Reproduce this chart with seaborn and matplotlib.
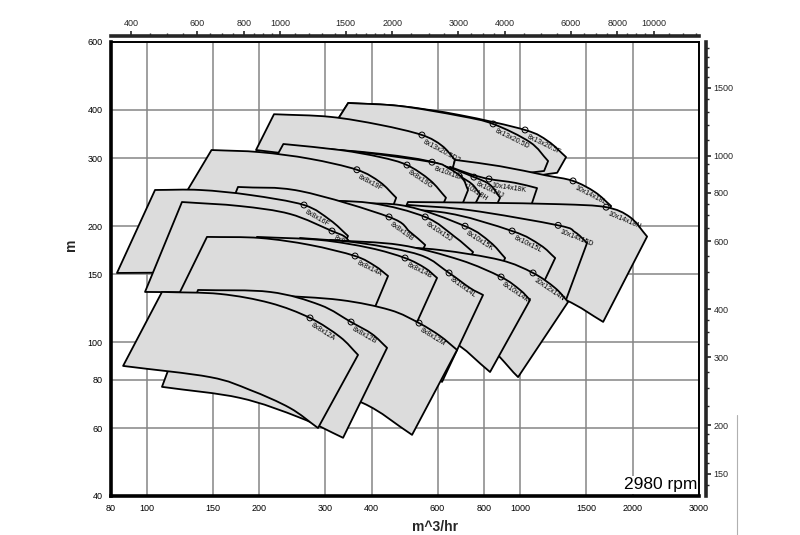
import numpy as np
import matplotlib
matplotlib.use("Agg")
import matplotlib.pyplot as plt
import seaborn as sns
import pandas as pd
from matplotlib.path import Path
from matplotlib.patches import PathPatch
from matplotlib.lines import Line2D
from matplotlib.ticker import FixedLocator, FixedFormatter, NullFormatter

sns.set_style("white")
plt.rcParams['font.family'] = ['Liberation Sans', 'DejaVu Sans']

# ---------------- data (flow m^3/hr, head m) ----------------
NAMES = ["8x13x20.5F", "8x13x20.5D", "8x13x20.5D2", "10x14x18L", "10x14x18K",
         "8x10x18J", "8x10x18H", "8x10x18A", "8x8x19G", "8x8x19F",
         "10x14x18N", "10x14x15D", "8x10x15L", "8x10x15K", "8x10x15J",
         "8x8x19B", "8x8x16F", "8x8x16A",
         "10x12x14N", "8x10x14M", "8x10x14L", "8x8x14B", "8x8x14A",
         "8x8x12M", "8x8x12B", "8x8x12A"]

# top (max impeller) curve, from minimum flow to maximum flow
TOP_Q = [[346, 476, 689, 1029, 1186, 1325],
         [346, 476, 689, 845, 1061, 1186],
         [219, 309, 421, 545, 617, 668],
         [668, 882, 1165, 1383, 1584, 1749],
         [648, 733, 824, 968, 1108],
         [242, 421, 609, 751, 829, 882],
         [239, 421, 591, 685, 742, 780],
         [234, 372, 580, 640, 698, 724],
         [232, 329, 421, 497, 573, 632],
         [149, 201, 273, 365, 421, 465],
         [500, 780, 1277, 1696, 1966, 2183],
         [500, 733, 1262, 1400, 1508],
         [350, 609, 950, 1129, 1239],
         [300, 476, 711, 829, 910],
         [257, 396, 556, 668, 747],
         [175.4, 257, 445, 506.5, 556],
         [105.2, 138.8, 188.9, 263.5, 309.3, 345.6],
         [124.2, 177.6, 241.7, 313.1, 339.3, 354.2],
         [428.9, 609.3, 882.1, 1080.8, 1238.6, 1341.6],
         [309.3, 476.2, 689.3, 887.6, 997.8, 1061],
         [257.1, 372.1, 538.7, 644.1, 733.1, 794.3],
         [197.2, 290.8, 395.8, 491.1, 555.6, 598.2],
         [144.9, 200.9, 273.4, 360.9, 408.2, 442.3],
         [213.7, 329.0, 447.7, 535.4, 609.3, 676.7],
         [137.1, 213.7, 290.8, 352.1, 400.7, 439.6],
         [109.8, 157, 213.7, 273.4, 329, 367.6]]
TOP_H = [[417, 409.5, 388, 355, 332, 302],
         [417, 409.5, 386, 368, 330, 295],
         [390, 384, 366, 344.5, 323, 297],
         [297, 286, 271, 262, 245, 225.5],
         [285, 273, 265, 259, 251],
         [321, 306, 288, 268, 256, 237],
         [323, 308, 292, 270, 257, 242],
         [323, 311, 293, 283, 267, 248],
         [326.5, 315, 302, 288, 263, 237],
         [315, 311, 299, 280, 260, 237],
         [231, 230, 228, 224, 211, 188],
         [227, 220, 201, 193, 181],
         [220.3, 217.7, 194.3, 178.8, 165.4],
         [226.9, 226.9, 200, 182, 165.4],
         [233.8, 229.7, 211.3, 187.6, 171.4],
         [252.7, 246.7, 211.3, 193.2, 178.8],
         [248.2, 248.2, 240.9, 226.9, 207.5, 188.7],
         [231, 225.5, 215.1, 194.3, 187.6, 177.7],
         [177.7, 173.5, 163.5, 151.3, 138.3, 127.3],
         [184.2, 178.8, 163.5, 147.7, 136.7, 128.8],
         [186.4, 180.9, 168.4, 151.3, 138.3, 132.7],
         [187.6, 184.2, 175.6, 165.4, 155.8, 146.9],
         [187.6, 186.4, 178.8, 167.4, 157.7, 148.6],
         [132.7, 128.8, 121.3, 112.2, 103.9, 95.6],
         [136.7, 135.1, 125.0, 112.9, 105.1, 96.8],
         [135.1, 133.5, 126.5, 115.7, 103.3, 92.8]]
# index of the best-efficiency point on the top curve
BEP_IDX = [3, 3, 3, 3, 2, 3, 3, 2, 3, 3, 3, 2, 2, 2, 2, 2, 3, 3, 3, 3, 3, 3, 3, 3, 3, 3]

# bottom (min impeller) curve, from maximum flow back to minimum flow
BOT_Q = [[1254, 998, 609, 294],
         [1157, 882, 573, 294],
         [636, 476, 309, 196],
         [1614, 1129, 780, 617],
         [1048, 829, 617],
         [840, 573, 350, 203],
         [733, 539, 329, 203],
         [689, 506, 309, 201],
         [602, 421, 291, 198.5],
         [448, 329, 214, 125],
         [1665, 1317, 882, 421],
         [1317, 1061, 733, 434],
         [1129, 829, 539, 319],
         [840, 648, 421, 265],
         [681, 539, 350, 220],
         [506.5, 396, 257, 152],
         [325, 241.7, 157, 83.2],
         [329, 241.7, 157, 98.9],
         [985.7, 779.7, 538.7, 354.2],
         [829.3, 648.1, 447.7, 257.1],
         [616.9, 476.2, 309.3, 220.4],
         [528.8, 421, 290.8, 169.1],
         [408.2, 309.3, 200.9, 119.8],
         [512.8, 379.1, 257.1, 172.2],
         [335.2, 257.1, 177.6, 109.8],
         [287.2, 241.7, 188.9, 147.6, 86.4]]
BOT_H = [[275, 270, 290, 325],
         [278, 272, 292, 325],
         [237, 263, 297, 315],
         [190, 215.1, 222.9, 222.9],
         [214, 218, 220],
         [214, 227, 241, 248],
         [215, 228, 242, 250],
         [220, 234, 245, 251],
         [212.5, 230, 241, 248],
         [215, 224, 237, 237],
         [113, 129, 149.5, 159],
         [127, 143, 154, 162],
         [136.7, 154, 161.6, 165.4],
         [140.8, 158.6, 168.4, 171.4],
         [145, 161.6, 171.4, 173.5],
         [149.5, 166.4, 175.6, 177.7],
         [165.4, 155.8, 152.2, 151.3],
         [154, 140.8, 135.1, 135.1],
         [81.3, 101.4, 115.6, 121.3],
         [83.8, 101.4, 114.3, 125.0],
         [79.0, 92.8, 114.3, 125.0],
         [112.9, 121.3, 128.8, 132.7],
         [123.5, 128.8, 130.4, 128.8],
         [57.6, 69.6, 77.6, 80.8],
         [56.6, 63.8, 71.8, 76.7],
         [60.0, 67.6, 75.3, 81.3, 86.9]]

X_TICKS = [80, 100, 150, 200, 300, 400, 600, 800, 1000, 1500, 2000, 3000]
Y_TICKS = [40, 60, 80, 100, 150, 200, 300, 400, 600]
TOP_TICKS = [400, 600, 800, 1000, 1500, 2000, 3000, 4000, 6000, 8000, 10000]
RIGHT_TICKS = [150, 200, 300, 400, 600, 800, 1000, 1500]
SPEED_TEXT = "2980 rpm"
GPM_PER_M3H = 4.40287
FT_PER_M = 3.28084


def smooth_segments(qs, hs):
    """Cubic Bezier control points (Catmull-Rom tangents, log space) through the read points."""
    P = np.column_stack([np.log10(qs), np.log10(hs)])
    n = len(P)
    m = np.zeros_like(P)
    m[0] = P[1] - P[0]
    m[-1] = P[-1] - P[-2]
    for k in range(1, n - 1):
        m[k] = (P[k + 1] - P[k - 1]) / 2.0
    verts, codes = [], []
    for k in range(n - 1):
        c1 = P[k] + m[k] / 3.0
        c2 = P[k + 1] - m[k + 1] / 3.0
        verts += [c1, c2, P[k + 1]]
        codes += [Path.CURVE4] * 3
    return P, [10 ** v for v in verts], codes


# ---------------- figure ----------------
fig = plt.figure(figsize=(8, 5.35), dpi=100)
ax = fig.add_axes([0.13825, 0.0729, 0.7351, 0.8486])
ax.set_xscale('log')
ax.set_yscale('log')
ax.set_xlim(80, 3000)
ax.set_ylim(40, 600)


def minor_list(ranges):
    out = []
    for a, b, s in ranges:
        out += list(np.arange(a, b + 1e-9, s))
    return out


ax.xaxis.set_major_locator(FixedLocator(X_TICKS))
ax.xaxis.set_major_formatter(FixedFormatter([str(t) for t in X_TICKS]))
ax.xaxis.set_minor_locator(FixedLocator(minor_list([(85, 95, 5), (110, 190, 10), (225, 375, 25),
                                                    (450, 950, 50), (1100, 1900, 100), (2250, 2750, 250)])))
ax.xaxis.set_minor_formatter(NullFormatter())
ax.yaxis.set_major_locator(FixedLocator(Y_TICKS))
ax.yaxis.set_major_formatter(FixedFormatter([str(t) for t in Y_TICKS]))
ax.yaxis.set_minor_locator(FixedLocator(minor_list([(42, 58, 2), (65, 95, 5), (110, 190, 10),
                                                    (220, 380, 20), (425, 575, 25)])))
ax.yaxis.set_minor_formatter(NullFormatter())

ax.grid(True, which='major', color='#858585', linewidth=1.1)
ax.set_axisbelow(True)

ax.tick_params(axis='both', which='major', direction='out', length=3.8, width=1.2,
               labelsize=6.5, colors='black', pad=2)
ax.tick_params(axis='both', which='minor', direction='out', length=2.3, width=1, colors='black')

for s in ['left', 'bottom']:
    ax.spines[s].set_linewidth(2.6)
    ax.spines[s].set_color('black')
for s in ['top', 'right']:
    ax.spines[s].set_linewidth(1.4)
    ax.spines[s].set_color('black')

fill_col = '#dcdcdc'
for i, name in enumerate(NAMES):
    z = 2 + i * 0.1
    Pt, vt, ct = smooth_segments(TOP_Q[i], TOP_H[i])
    Pb, vb, cb = smooth_segments(BOT_Q[i], BOT_H[i])
    verts = [10 ** Pt[0]] + vt + [10 ** Pb[0]] + vb + [10 ** Pt[0]]
    codes = [Path.MOVETO] + ct + [Path.LINETO] + cb + [Path.CLOSEPOLY]
    patch = PathPatch(Path(np.array(verts), codes), facecolor=fill_col, edgecolor='black',
                      linewidth=1.3, zorder=z, joinstyle='round', transform=ax.transData)
    ax.add_patch(patch)
    b = BEP_IDX[i]
    bq, bh = TOP_Q[i][b], TOP_H[i][b]
    df = pd.DataFrame({'q': [bq], 'h': [bh]})
    sns.scatterplot(data=df, x='q', y='h', ax=ax, s=18, marker='o', facecolor='none',
                    edgecolor='black', linewidth=0.7, zorder=z + 0.03, legend=False)
    p0 = ax.transData.transform((bq, bh))
    p1 = ax.transData.transform((TOP_Q[i][b + 1], TOP_H[i][b + 1]))
    ang = np.degrees(np.arctan2(p1[1] - p0[1], p1[0] - p0[0]))
    ax.annotate(name, (bq, bh), xytext=(2.5, -2.5), textcoords='offset points',
                rotation=ang, rotation_mode='anchor', ha='left', va='top',
                fontsize=5, color='black', zorder=z + 0.05, annotation_clip=False)

ax.set_xlabel('m^3/hr', fontsize=10, fontweight='bold')
ax.xaxis.set_label_coords(0.552, -0.053)
ax.set_ylabel('m', fontsize=10, fontweight='bold')
ax.yaxis.set_label_coords(-0.055, 0.553)

ax.text(0.997, 0.008, SPEED_TEXT, transform=ax.transAxes, ha='right', va='bottom',
        fontsize=12.5, color='black', zorder=20,
        bbox=dict(facecolor='white', edgecolor='none', pad=1.0))

# secondary axes: US gpm on top, feet on right
secx = ax.secondary_xaxis('top', functions=(lambda x: x * GPM_PER_M3H, lambda x: x / GPM_PER_M3H))
secx.spines['top'].set_position(('outward', 4.3))
secx.spines['top'].set_linewidth(2.6)
secx.xaxis.set_major_locator(FixedLocator(TOP_TICKS))
secx.xaxis.set_major_formatter(FixedFormatter([str(t) for t in TOP_TICKS]))
secx.xaxis.set_minor_locator(FixedLocator(minor_list([(450, 550, 50), (650, 750, 50), (850, 950, 50),
                                                      (1100, 1400, 100), (1600, 1900, 100),
                                                      (2250, 2750, 250), (3250, 3750, 250),
                                                      (4500, 5500, 500), (6500, 7500, 500),
                                                      (8500, 9500, 500), (11000, 13000, 1000)])))
secx.xaxis.set_minor_formatter(NullFormatter())
secx.tick_params(which='major', direction='out', length=3.8, width=1.2, labelsize=6.5, pad=2)
secx.tick_params(which='minor', direction='out', length=2.3, width=1)

secy = ax.secondary_yaxis('right', functions=(lambda y: y * FT_PER_M, lambda y: y / FT_PER_M))
secy.spines['right'].set_position(('outward', 5))
secy.spines['right'].set_linewidth(2.6)
secy.yaxis.set_major_locator(FixedLocator(RIGHT_TICKS))
secy.yaxis.set_major_formatter(FixedFormatter([str(t) for t in RIGHT_TICKS]))
secy.yaxis.set_minor_locator(FixedLocator(minor_list([(140, 140, 10), (160, 190, 10), (225, 275, 25),
                                                      (325, 375, 25), (450, 550, 50), (650, 750, 50),
                                                      (850, 950, 50), (1100, 1400, 100),
                                                      (1600, 1900, 100)])))
secy.yaxis.set_minor_formatter(NullFormatter())
secy.tick_params(which='major', direction='out', length=3.8, width=1.2, labelsize=6.5, pad=2)
secy.tick_params(which='minor', direction='out', length=2.3, width=1)

# faint scan-edge line present at the lower right of the source image
fig.add_artist(Line2D([0.921, 0.921], [0.0, 0.225], color='#b0b0b0', linewidth=0.8))

fig.savefig('out.png', dpi=100, facecolor='white')
